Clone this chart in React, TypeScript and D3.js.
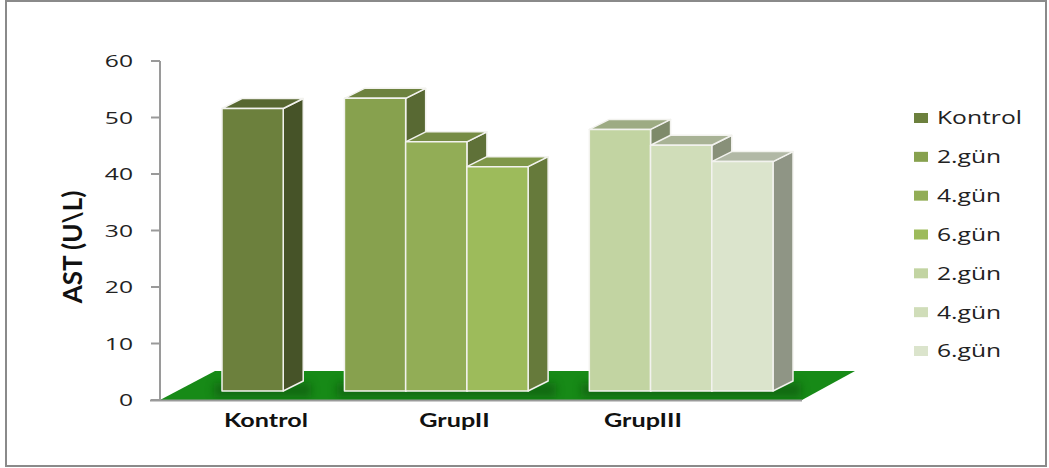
import React from "react";
import * as d3 from "d3";

const categories = ["Kontrol", "GrupII", "GrupIII"];
const seriesNames = ["Kontrol", "2.gün", "4.gün", "6.gün", "2.gün", "4.gün", "6.gün"];
const kontrolValues = [50];
const grupIIValues = [51.8, 44.1, 39.7];
const grupIIIValues = [46.3, 43.5, 40.6];
const seriesColors = ["#6c803d", "#87a14e", "#92ad56", "#9dbb5b", "#c2d4a2", "#d0ddb9", "#dbe4cc"];
const yTicks = [0, 10, 20, 30, 40, 50, 60];
const groupStartSlots = [0, 2, 6];

const W = 1049;
const H = 468;

export default function App() {
  const yScale = d3.scaleLinear().domain([0, 60]).range([400, 61]);
  const floorDepth = 9;
  const depthX = 20;
  const depthY = 10;
  const yBar = (v: number) => yScale(v) - floorDepth;
  const slot = d3.scaleBand<number>().domain(d3.range(9)).range([222, 773]).paddingInner(0);
  const labelX = d3.scalePoint<string>().domain(categories).range([266, 643]);

  const groups = [kontrolValues, grupIIValues, grupIIIValues];
  let sIdx = 0;
  const bars: { x: number; w: number; top: number; color: string; key: string }[] = [];
  groups.forEach((vals, gi) => {
    vals.forEach((v, i) => {
      const s = groupStartSlots[gi] + i;
      bars.push({ x: slot(s)!, w: slot.bandwidth(), top: yBar(v), color: seriesColors[sIdx], key: `${gi}-${i}` });
      sIdx++;
    });
  });
  const base = yBar(0);

  const groupExtents = groups.map((vals, gi) => {
    const x0 = slot(groupStartSlots[gi])!;
    const x1 = slot(groupStartSlots[gi] + vals.length - 1)! + slot.bandwidth();
    return [x0, x1];
  });

  const floor = [
    [yScale.range()[0] === 400 ? 160 : 160, yScale(0)],
    [215, yScale(0) - 29],
    [855, yScale(0) - 29],
    [802, yScale(0)],
  ];

  const legendY = d3.scaleLinear().domain([0, 6]).range([118, 351]);

  return (
    <svg width={W} height={H} style={{ position: "absolute", left: 0, top: 0, background: "#fff" }}>
      <defs>
        <filter id="blur" x="-20%" y="-200%" width="140%" height="500%">
          <feGaussianBlur stdDeviation="4" />
        </filter>
        <clipPath id="floorClip">
          <polygon points={floor.map((p) => p.join(",")).join(" ")} />
        </clipPath>
      </defs>
      <rect x={6} y={1} width={1040} height={465} fill="#fff" stroke="#8a8a8a" strokeWidth={2} />

      {/* floor */}
      <polygon points={floor.map((p) => p.join(",")).join(" ")} fill="#178a17" />
      <g clipPath="url(#floorClip)">
        {groupExtents.map(([x0, x1], i) => (
          <rect key={i} x={x0 - 8} y={base - 8} width={x1 - x0 + depthX + 16} height={14} fill="#0b4f0b" opacity={0.55} filter="url(#blur)" />
        ))}
      </g>

      {/* axes */}
      <line x1={160} x2={160} y1={yScale(60)} y2={yScale(0)} stroke="#9a9a9a" strokeWidth={2} />
      <line x1={150} x2={802} y1={yScale(0) + 0.5} y2={yScale(0) + 0.5} stroke="#9a9a9a" strokeWidth={2} />
      {yTicks.map((t) => (
        <g key={t}>
          <line x1={151} x2={160} y1={yScale(t)} y2={yScale(t)} stroke="#9a9a9a" strokeWidth={2} />
          <text
            transform={`translate(133,${yScale(t)}) scale(1.45,1)`}
            textAnchor="end"
            dy="0.36em"
            fontFamily="Open Sans"
            fontSize={17}
            fill="#222"
          >
            {t}
          </text>
        </g>
      ))}
      <text
        transform="translate(82,247) rotate(-90)"
        textAnchor="middle"
        fontFamily="Lato"
        fontWeight="bold"
        fontSize={26}
        fill="#111"
      >
        AST (U\L)
      </text>

      {/* bars */}
      {bars.map((b) => {
        const c = d3.color(b.color)!;
        const side = c.darker(1.2).formatHex();
        const top = c.darker(0.6).formatHex();
        const x0 = b.x;
        const x1 = b.x + b.w;
        return (
          <g key={b.key} stroke="#f2f2ee" strokeWidth={1.5} strokeLinejoin="round">
            <polygon points={`${x1},${b.top} ${x1 + depthX},${b.top - depthY} ${x1 + depthX},${base - depthY} ${x1},${base}`} fill={side} />
            <polygon points={`${x0},${b.top} ${x0 + depthX},${b.top - depthY} ${x1 + depthX},${b.top - depthY} ${x1},${b.top}`} fill={top} />
            <rect x={x0} y={b.top} width={b.w} height={base - b.top} fill={b.color} />
          </g>
        );
      })}

      {/* category labels */}
      {categories.map((c) => (
        <text
          key={c}
          transform={`translate(${labelX(c)},427) scale(1.4,1)`}
          textAnchor="middle"
          fontFamily="Lato"
          fontWeight="bold"
          fontSize={18}
          fill="#111"
        >
          {c}
        </text>
      ))}

      {/* legend */}
      {seriesNames.map((n, i) => (
        <g key={i}>
          <rect x={914} y={legendY(i) - 5} width={14} height={10} fill={seriesColors[i]} />
          <text
            transform={`translate(937,${legendY(i)}) scale(1.37,1)`}
            dy="0.36em"
            fontFamily="Open Sans"
            fontSize={18}
            fill="#222"
          >
            {n}
          </text>
        </g>
      ))}
    </svg>
  );
}
